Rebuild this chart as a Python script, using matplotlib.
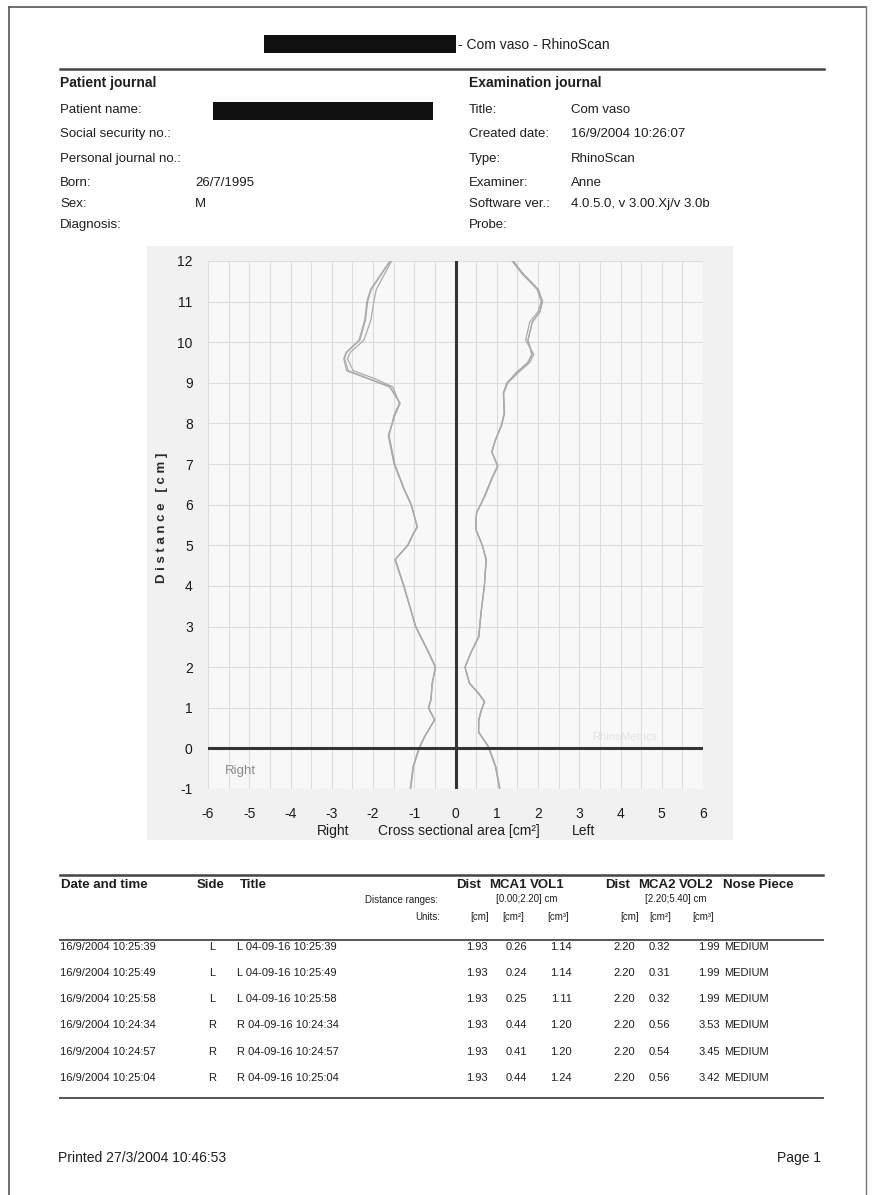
import matplotlib
matplotlib.use("Agg")
import matplotlib.pyplot as plt
from matplotlib.patches import Rectangle
from matplotlib.lines import Line2D

plt.rcParams['font.family'] = ['Liberation Sans', 'DejaVu Sans']

# ---------------- data ----------------
# Right nostril (plotted on negative side), distance [cm] and area [cm^2]
dist_R = [-1.0, -0.45, 0.0, 0.3, 0.7, 1.0, 1.2, 1.6, 2.0, 2.35, 3.0, 4.0, 4.65, 5.0,
          5.3, 5.45, 6.0, 6.4, 7.0, 7.7, 8.2, 8.5, 8.9, 9.1, 9.3, 9.6, 9.75, 10.05,
          10.55, 11.0, 11.3, 12.0]
area_R1 = [1.09, 1.02, 0.88, 0.74, 0.51, 0.65, 0.60, 0.56, 0.49, 0.65, 0.97, 1.25, 1.46, 1.16,
           1.02, 0.93, 1.07, 1.25, 1.48, 1.62, 1.48, 1.35, 1.58, 2.09, 2.60, 2.69, 2.64, 2.32,
           2.18, 2.13, 2.04, 1.58]
area_R2 = [1.09, 1.02, 0.88, 0.74, 0.51, 0.65, 0.60, 0.56, 0.49, 0.65, 0.97, 1.25, 1.46, 1.16,
           1.02, 0.93, 1.07, 1.25, 1.47, 1.61, 1.49, 1.36, 1.52, 1.95, 2.48, 2.62, 2.55, 2.22,
           2.05, 1.98, 1.92, 1.55]
area_R3 = [1.10, 1.03, 0.89, 0.75, 0.50, 0.66, 0.59, 0.57, 0.48, 0.64, 0.96, 1.26, 1.47, 1.15,
           1.01, 0.92, 1.08, 1.26, 1.49, 1.63, 1.47, 1.34, 1.60, 2.12, 2.64, 2.71, 2.65, 2.34,
           2.20, 2.15, 2.06, 1.59]

# Left nostril (plotted on positive side)
dist_L = [-1.0, -0.45, 0.05, 0.4, 0.7, 0.95, 1.15, 1.35, 1.6, 2.0, 2.35, 2.75, 3.35, 4.0,
          4.65, 5.0, 5.4, 5.8, 6.2, 6.65, 6.95, 7.3, 7.6, 7.95, 8.25, 8.75, 9.0, 9.25,
          9.5, 9.7, 10.05, 10.5, 10.75, 11.0, 11.3, 11.7, 12.0]
area_L1 = [1.07, 0.97, 0.79, 0.56, 0.56, 0.63, 0.70, 0.56, 0.34, 0.23, 0.37, 0.56, 0.62, 0.70,
           0.74, 0.65, 0.49, 0.51, 0.70, 0.88, 1.02, 0.88, 0.97, 1.11, 1.18, 1.16, 1.25, 1.48,
           1.76, 1.86, 1.76, 1.86, 2.04, 2.10, 2.00, 1.62, 1.39]
area_L2 = [1.07, 0.97, 0.79, 0.56, 0.56, 0.63, 0.70, 0.56, 0.34, 0.23, 0.37, 0.56, 0.62, 0.70,
           0.74, 0.65, 0.49, 0.51, 0.70, 0.88, 1.02, 0.88, 0.97, 1.11, 1.18, 1.17, 1.27, 1.52,
           1.80, 1.90, 1.70, 1.80, 2.00, 2.08, 1.98, 1.60, 1.37]
area_L3 = [1.08, 0.98, 0.80, 0.56, 0.57, 0.63, 0.71, 0.57, 0.34, 0.23, 0.37, 0.57, 0.62, 0.70,
           0.75, 0.65, 0.49, 0.51, 0.71, 0.89, 1.03, 0.88, 0.97, 1.12, 1.19, 1.16, 1.25, 1.47,
           1.75, 1.85, 1.75, 1.87, 2.05, 2.11, 2.01, 1.63, 1.40]

x_ticks = [-6, -5, -4, -3, -2, -1, 0, 1, 2, 3, 4, 5, 6]
y_ticks = [-1, 0, 1, 2, 3, 4, 5, 6, 7, 8, 9, 10, 11, 12]

# header info
patient_labels = ['Patient name:', 'Social security no.:', 'Personal journal no.:', 'Born:', 'Sex:', 'Diagnosis:']
patient_values = ['', '', '', '26/7/1995', 'M', '']
exam_labels = ['Title:', 'Created date:', 'Type:', 'Examiner:', 'Software ver.:', 'Probe:']
exam_values = ['Com vaso', '16/9/2004 10:26:07', 'RhinoScan', 'Anne', '4.0.5.0, v 3.00.Xj/v 3.0b', '']

# table
dates = ['16/9/2004 10:25:39', '16/9/2004 10:25:49', '16/9/2004 10:25:58',
         '16/9/2004 10:24:34', '16/9/2004 10:24:57', '16/9/2004 10:25:04']
sides = ['L', 'L', 'L', 'R', 'R', 'R']
titles = ['L 04-09-16 10:25:39', 'L 04-09-16 10:25:49', 'L 04-09-16 10:25:58',
          'R 04-09-16 10:24:34', 'R 04-09-16 10:24:57', 'R 04-09-16 10:25:04']
dist1 = [1.93, 1.93, 1.93, 1.93, 1.93, 1.93]
mca1 = [0.26, 0.24, 0.25, 0.44, 0.41, 0.44]
vol1 = [1.14, 1.14, 1.11, 1.20, 1.20, 1.24]
dist2 = [2.20, 2.20, 2.20, 2.20, 2.20, 2.20]
mca2 = [0.32, 0.31, 0.32, 0.56, 0.54, 0.56]
vol2 = [1.99, 1.99, 1.99, 3.53, 3.45, 3.42]
nose = ['MEDIUM', 'MEDIUM', 'MEDIUM', 'MEDIUM', 'MEDIUM', 'MEDIUM']

# ---------------- figure ----------------
W, H = 872, 1195
fig = plt.figure(figsize=(W / 100, H / 100), dpi=100)
fig.patch.set_facecolor('white')

def fx(x):
    return x / W

def fy(y):
    return 1 - y / H

TXT = '#1e1e1e'

def t(x, y, s, size=10, ha='left', weight='normal', color=TXT, **kw):
    fig.text(fx(x), fy(y), s, fontsize=size, ha=ha, va='center', weight=weight, color=color, **kw)

def hline(x0, x1, y, lw=1.2, color='#333333'):
    fig.add_artist(Line2D([fx(x0), fx(x1)], [fy(y), fy(y)], lw=lw, color=color,
                          transform=fig.transFigure))

def rect(x0, y0, x1, y1, color, z=1):
    fig.add_artist(Rectangle((fx(x0), fy(y1)), fx(x1) - fx(x0), fy(y0) - fy(y1),
                             transform=fig.transFigure, color=color, lw=0, zorder=z))

# page border (scan frame)
fig.add_artist(Line2D([fx(9), fx(9)], [fy(7), fy(1195)], lw=1.2, color='#555555', transform=fig.transFigure))
fig.add_artist(Line2D([fx(9), fx(866)], [fy(7), fy(7)], lw=1.2, color='#555555', transform=fig.transFigure))
fig.add_artist(Line2D([fx(866), fx(866)], [fy(7), fy(1195)], lw=1.0, color='#777777', transform=fig.transFigure))

# title
rect(264, 35, 456, 53, '#111111')
t(458, 45, '- Com vaso - RhinoScan', size=10)
hline(60, 824, 69, lw=1.8, color='#444444')

# header blocks
t(60, 83, 'Patient journal', size=10, weight='bold')
t(469, 83, 'Examination journal', size=10, weight='bold')
row_y = [110, 134, 159, 183, 204, 225]
for y, lab, val in zip(row_y, patient_labels, patient_values):
    t(60, y, lab, size=9.5)
    if val:
        t(195, y, val, size=9.5)
rect(213, 102, 433, 120, '#111111')
for y, lab, val in zip(row_y, exam_labels, exam_values):
    t(469, y, lab, size=9.5)
    if val:
        t(571, y, val, size=9.5)

# plot background box (behind the axes)
rect(147, 246, 733, 840, '#f1f1f1', z=-10)

# ---------------- chart ----------------
ax = fig.add_axes([fx(208), fy(789), fx(703) - fx(208), fy(261) - fy(789)])
ax.set_facecolor('#f8f8f8')
ax.set_xlim(-6, 6)
ax.set_ylim(-1, 12)
for s in ax.spines.values():
    s.set_visible(False)
ax.set_xticks(x_ticks)
ax.set_yticks(y_ticks)
ax.set_xticks([v + 0.5 for v in x_ticks[:-1]], minor=True)
ax.grid(True, which='major', axis='both', color='#dcdcdc', lw=0.8)
ax.grid(True, which='minor', axis='x', color='#dcdcdc', lw=0.8)
ax.tick_params(which='both', length=0)
ax.tick_params(axis='x', pad=13, labelsize=10, labelcolor='#1a1a1a')
ax.tick_params(axis='y', pad=11, labelsize=10, labelcolor='#1a1a1a')
ax.set_xticklabels([str(v) for v in x_ticks])
ax.set_yticklabels([str(v) for v in y_ticks])

curve_color = '#ababab'
for a in (area_R1, area_R2, area_R3):
    ax.plot([-v for v in a], dist_R, color=curve_color, lw=0.9)
for a in (area_L1, area_L2, area_L3):
    ax.plot(a, dist_L, color=curve_color, lw=0.9)

ax.axvline(0, color='#333333', lw=2.2)
ax.axhline(0, color='#333333', lw=2.2)

ax.text(-5.6, -0.55, 'Right', fontsize=9.5, color='#8a8a8a', ha='left', va='center')
ax.text(4.1, 0.28, 'RhinoMetrics', fontsize=8, color='#e2e2e2', ha='center', va='center')

# axis labels
t(162, 518, 'D i s t a n c e   [ c m ]', size=9.5, ha='center', weight='bold', rotation=90, color='#2a2a2a')
t(333, 831, 'Right', size=10, ha='center')
t(459, 831, 'Cross sectional area [cm²]', size=10, ha='center')
t(584, 831, 'Left', size=10, ha='center')

# ---------------- table ----------------
hline(60, 823, 875, lw=1.8, color='#444444')
hs = 9.5
t(61, 885, 'Date and time', size=hs, weight='bold')
t(197, 885, 'Side', size=hs, weight='bold')
t(240, 885, 'Title', size=hs, weight='bold')
t(456, 885, 'Dist', size=hs, weight='bold')
t(489, 885, 'MCA1', size=hs, weight='bold')
t(530, 885, 'VOL1', size=hs, weight='bold')
t(605, 885, 'Dist', size=hs, weight='bold')
t(638, 885, 'MCA2', size=hs, weight='bold')
t(679, 885, 'VOL2', size=hs, weight='bold')
t(723, 885, 'Nose Piece', size=hs, weight='bold')

t(438, 900, 'Distance ranges:', size=7, ha='right')
t(440, 917, 'Units:', size=7, ha='right')
t(527, 899, '[0.00;2.20] cm', size=7, ha='center')
t(676, 899, '[2.20;5.40] cm', size=7, ha='center')
for x, s in [(470, '[cm]'), (502, '[cm²]'), (547, '[cm³]'), (620, '[cm]'), (649, '[cm²]'), (692, '[cm³]')]:
    t(x, 917, s, size=7)
hline(60, 823, 940, lw=1.4, color='#555555')

table_y = [947, 973, 999, 1025, 1052, 1078]
rs = 8
for i, y in enumerate(table_y):
    t(60, y, dates[i], size=rs)
    t(212, y, sides[i], size=rs, ha='center')
    t(237, y, titles[i], size=rs)
    t(488, y, f'{dist1[i]:.2f}', size=rs, ha='right')
    t(527, y, f'{mca1[i]:.2f}', size=rs, ha='right')
    t(572, y, f'{vol1[i]:.2f}', size=rs, ha='right')
    t(635, y, f'{dist2[i]:.2f}', size=rs, ha='right')
    t(670, y, f'{mca2[i]:.2f}', size=rs, ha='right')
    t(720, y, f'{vol2[i]:.2f}', size=rs, ha='right')
    t(724, y, nose[i], size=rs)
hline(60, 823, 1098, lw=1.4, color='#555555')

# footer
t(58, 1158, 'Printed 27/3/2004 10:46:53', size=10)
t(821, 1158, 'Page 1', size=10, ha='right')

fig.savefig('out.png', dpi=100, facecolor='white')
